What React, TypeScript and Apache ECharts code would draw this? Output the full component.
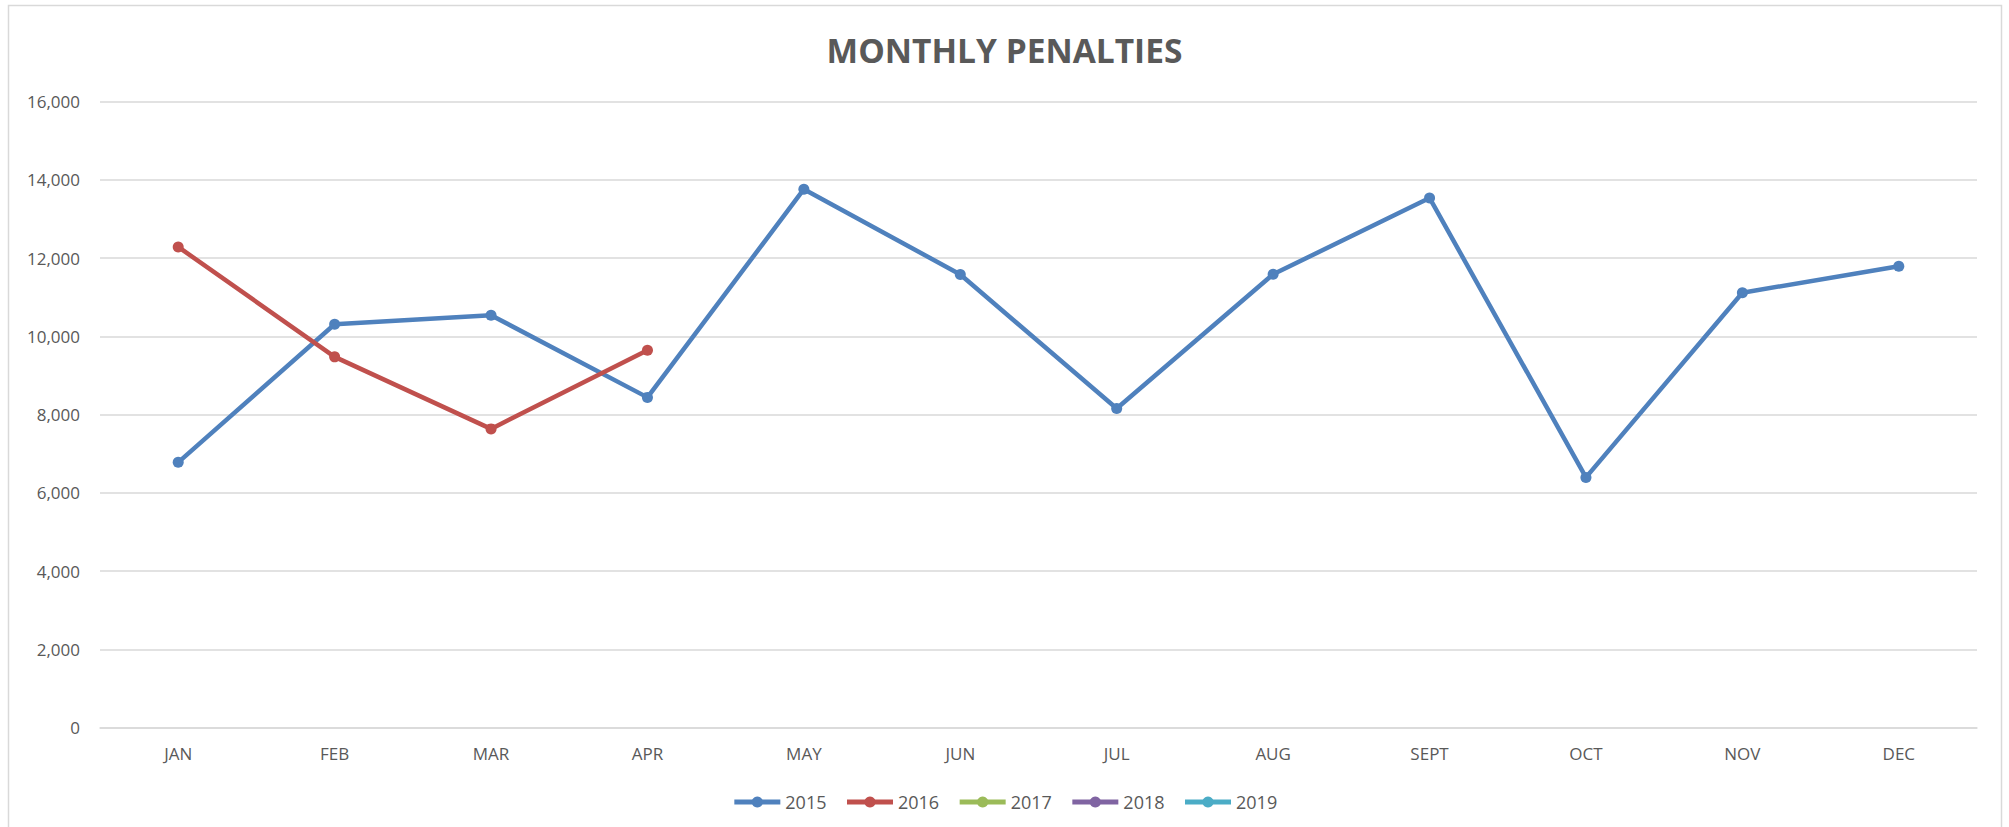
import React, { useEffect, useRef } from "react";
import * as echarts from "echarts";

const months = ["JAN", "FEB", "MAR", "APR", "MAY", "JUN", "JUL", "AUG", "SEPT", "OCT", "NOV", "DEC"];
const years = ["2015", "2016", "2017", "2018", "2019"];
const colors = ["#4f81bd", "#c0504d", "#9bbb59", "#8064a2", "#4bacc6"];
const values2015 = [6780, 10310, 10540, 8440, 13760, 11580, 8155, 11585, 13535, 6395, 11115, 11790];
const values2016 = [12285, 9475, 7635, 9645];
const values2017: number[] = [];
const values2018: number[] = [];
const values2019: number[] = [];
const seriesValues = [values2015, values2016, values2017, values2018, values2019];

const FONT = "'Open Sans', 'Noto Sans', sans-serif";

export default function App() {
  const ref = useRef<HTMLDivElement>(null);
  useEffect(() => {
    if (!ref.current) return;
    const chart = echarts.init(ref.current, null, { renderer: "svg" });
    chart.setOption({
      animation: false,
      backgroundColor: "#ffffff",
      title: {
        text: "MONTHLY PENALTIES",
        left: "center",
        top: 30,
        padding: 0,
        textStyle: {
          fontFamily: FONT,
          fontSize: 33.5,
          fontWeight: "bold",
          color: "#595959",
          lineHeight: 40,
        },
      },
      graphic: [
        {
          type: "rect",
          shape: { x: 8.5, y: 5.5, width: 1993, height: 840 },
          style: { fill: "none", stroke: "#d9d9d9", lineWidth: 1.5 },
          silent: true,
        },
      ],
      legend: {
        data: years,
        left: "center",
        top: 788,
        itemWidth: 46,
        itemHeight: 14,
        itemGap: 18,
        lineStyle: { width: 5 },
        textStyle: { fontFamily: FONT, fontSize: 18, color: "#595959" },
      },
      grid: { left: 100, right: 32, top: 101.5, bottom: 99.3, containLabel: false },
      xAxis: {
        type: "category",
        data: months,
        boundaryGap: true,
        axisLine: { show: true, lineStyle: { color: "#d9d9d9", width: 1.5 } },
        axisTick: { show: false },
        axisLabel: { fontFamily: FONT, fontSize: 17, color: "#595959", margin: 17 },
      },
      yAxis: {
        type: "value",
        min: 0,
        max: 16000,
        interval: 2000,
        axisLine: { show: false },
        axisTick: { show: false },
        splitLine: { lineStyle: { color: "#d9d9d9", width: 1.5 } },
        axisLabel: {
          fontFamily: FONT,
          fontSize: 17,
          color: "#595959",
          margin: 20,
          formatter: (v: number) => v.toLocaleString("en-US"),
        },
      },
      series: years.map((y, i) => ({
        name: y,
        type: "line",
        data: seriesValues[i],
        symbol: "circle",
        symbolSize: 11,
        itemStyle: { color: colors[i] },
        lineStyle: { color: colors[i], width: 4.5 },
      })),
    });
    return () => chart.dispose();
  }, []);
  return <div ref={ref} style={{ position: "fixed", left: 0, top: 0, width: 2009, height: 827 }} />;
}
